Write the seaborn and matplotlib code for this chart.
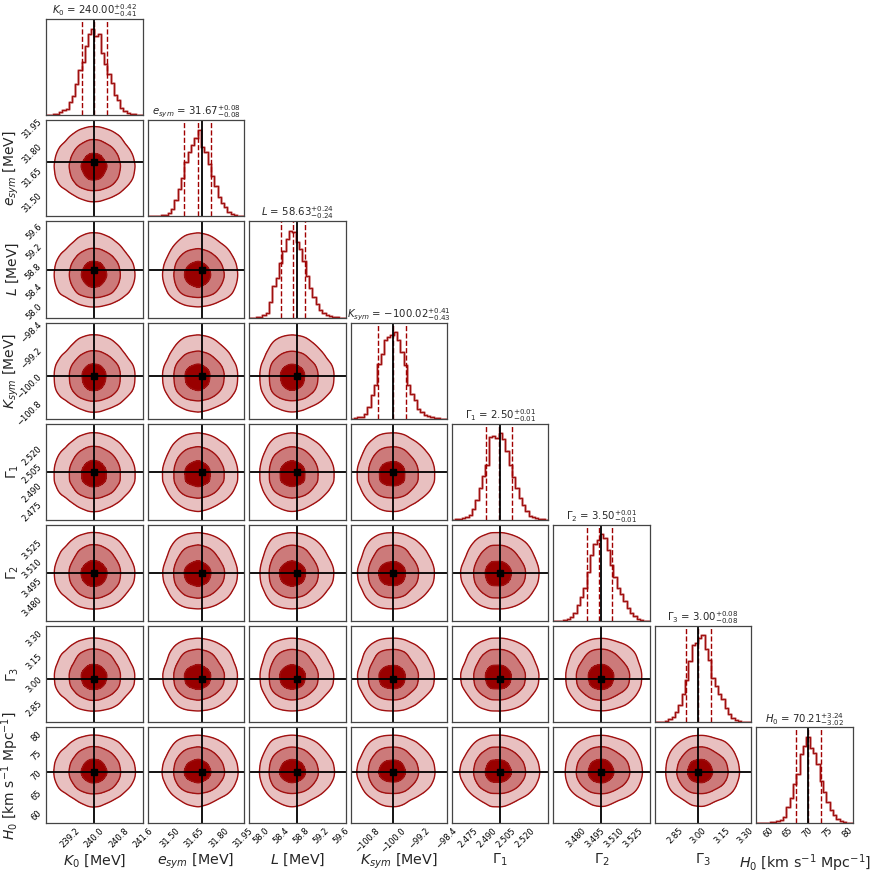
# Corner plot of the posterior for the nuclear EOS + H0 parameters.

import numpy as np
import seaborn as sns
import matplotlib.pyplot as plt
from matplotlib.ticker import ScalarFormatter

sns.set_style("white")

# Parameters
labels = [r"$K_0$ [MeV]", r"$e_{sym}$ [MeV]", r"$L$ [MeV]", r"$K_{sym}$ [MeV]",
          r"$\Gamma_1$", r"$\Gamma_2$", r"$\Gamma_3$", r"$H_0$ [km s$^{-1}$ Mpc$^{-1}$]"]
symbols = [r"K_0", r"e_{sym}", r"L", r"K_{sym}", r"\Gamma_1", r"\Gamma_2", r"\Gamma_3", r"H_0"]

# injected (true) values and posterior summaries
truths = [240.0, 31.70, 58.70, -100.0, 2.500, 3.500, 3.000, 70.0]
medians = [240.00, 31.67, 58.63, -100.02, 2.4995, 3.4985, 3.00, 70.21]
err_lo = [0.41, 0.08, 0.24, 0.43, 0.01, 0.01, 0.08, 3.02]
err_hi = [0.42, 0.08, 0.24, 0.41, 0.01, 0.01, 0.08, 3.24]

# axis extents and ticks
ranges = [(238.4, 241.6), (31.365, 31.955), (57.75, 59.68), (-101.29, -98.37),
          (2.462, 2.539), (3.4625, 3.538), (2.722, 3.341), (57.1, 81.4)]
ticks = [[239.2, 240.0, 240.8, 241.6],
         [31.50, 31.65, 31.80, 31.95],
         [58.0, 58.4, 58.8, 59.2, 59.6],
         [-100.8, -100.0, -99.2, -98.4],
         [2.475, 2.490, 2.505, 2.520],
         [3.480, 3.495, 3.510, 3.525],
         [2.85, 3.00, 3.15, 3.30],
         [60, 65, 70, 75, 80]]

# marginal histogram counts (evenly spaced bins over each range)
hist_K0 = [0, 0, 3, 5, 10, 14, 18, 38, 55, 90, 130, 155, 200, 235, 251,
           230, 235, 180, 150, 120, 95, 60, 45, 20, 12, 8, 5, 3, 1, 0]
hist_esym = [0, 0, 0, 1, 3, 5, 10, 22, 50, 85, 120, 170, 200, 222, 245,
             270, 215, 200, 165, 125, 95, 62, 42, 28, 14, 8, 4, 2, 0]
hist_L = [0, 0, 1, 3, 8, 14, 45, 92, 115, 160, 195, 228, 252, 250, 220,
          200, 165, 120, 85, 60, 38, 22, 12, 8, 5, 3, 1, 0, 0]
hist_Ksym = [0, 2, 4, 6, 15, 35, 70, 100, 165, 195, 235, 245, 250, 260, 235,
             200, 160, 100, 75, 55, 30, 20, 12, 8, 5, 2, 1, 0, 0]
hist_G1 = [0, 1, 3, 4, 8, 14, 30, 55, 90, 125, 155, 235, 237, 232, 245,
           228, 195, 155, 122, 90, 62, 42, 26, 12, 8, 4, 2, 1, 0]
hist_G2 = [0, 0, 0, 2, 6, 12, 22, 45, 70, 95, 140, 190, 222, 235, 250,
           238, 205, 160, 128, 95, 78, 58, 38, 22, 13, 6, 3, 1, 0]
hist_G3 = [0, 0, 0, 3, 8, 16, 28, 50, 80, 120, 175, 222, 228, 242, 250,
           210, 180, 128, 105, 82, 66, 40, 22, 11, 5, 2, 1, 0, 0]
hist_H0 = [0, 0, 0, 1, 2, 3, 5, 8, 18, 45, 72, 112, 140, 198, 222,
           248, 215, 200, 170, 120, 88, 62, 38, 22, 12, 5, 2, 1, 0]
hists = [hist_K0, hist_esym, hist_L, hist_Ksym, hist_G1, hist_G2, hist_G3, hist_H0]

dark = "#a01010"
fill_colors = ["#e8c0c0", "#cc7a7a", "#990000"]
mass_levels = 1.0 - np.exp(-0.5 * np.array([3.0, 2.0, 1.0]) ** 2)  # 3, 2, 1 sigma in 2D

ndim = len(labels)


def bin_centers(k):
    lo, hi = ranges[k]
    edges = np.linspace(lo, hi, len(hists[k]) + 1)
    return 0.5 * (edges[1:] + edges[:-1])


def smooth_marginal(k, grid):
    # kernel-smoothed version of the marginal histogram
    cx = bin_centers(k)
    bw = 0.8 * (cx[1] - cx[0])
    h = np.array(hists[k], dtype=float)
    return (h[None, :] * np.exp(-0.5 * ((grid[:, None] - cx[None, :]) / bw) ** 2)).sum(axis=1)


fig, axes = plt.subplots(ndim, ndim, figsize=(8.72, 8.72), dpi=100)
fig.subplots_adjust(left=0.053, right=0.978, bottom=0.056, top=0.978,
                    wspace=0.052, hspace=0.052)

for r in range(ndim):
    for c in range(ndim):
        ax = axes[r, c]
        if c > r:
            ax.set_visible(False)
            continue

        if r == c:
            cx = bin_centers(c)
            h = np.array(hists[c], dtype=float)
            for col, lw in (("#dc9e9e", 2.0), (dark, 0.9)):
                sns.histplot(x=cx, weights=h, bins=len(h), binrange=ranges[c],
                             element="step", fill=False, color=col, linewidth=lw, ax=ax)
            med = medians[c]
            for q in (med - err_lo[c], med, med + err_hi[c]):
                ax.axvline(q, color="#a00000", ls="--", lw=1.0)
            ax.axvline(truths[c], color="black", lw=1.3)
            ax.set_ylim(0, 1.11 * h.max())
            ax.set_yticks([])
            ax.set_ylabel("")
            ax.set_title(rf"${symbols[c]}$ = ${med:.2f}_{{-{err_lo[c]:.2f}}}^{{+{err_hi[c]:.2f}}}$",
                         fontsize=7.3, pad=3)
        else:
            gx = np.linspace(*ranges[c], 150)
            gy = np.linspace(*ranges[r], 150)
            Z = np.outer(smooth_marginal(r, gy), smooth_marginal(c, gx))
            z_sorted = np.sort(Z.ravel())[::-1]
            cum = np.cumsum(z_sorted) / z_sorted.sum()
            thr = [z_sorted[np.searchsorted(cum, m)] for m in mass_levels]
            ax.contourf(gx, gy, Z, levels=thr + [Z.max() * 1.01], colors=fill_colors)
            ax.contour(gx, gy, Z, levels=thr, colors=dark, linewidths=1.0)
            ax.axvline(truths[c], color="black", lw=1.3)
            ax.axhline(truths[r], color="black", lw=1.3)
            ax.plot(truths[c], truths[r], "s", color="black", ms=5)
            ax.set_ylim(ranges[r])
            ax.set_yticks(ticks[r])
            ax.yaxis.set_major_formatter(ScalarFormatter(useOffset=False))
            ax.set_ylabel("")
            if c == 0:
                for lab in ax.get_yticklabels():
                    lab.set_rotation(45)
                ax.set_ylabel(labels[r], fontsize=10)
                ax.yaxis.set_label_coords(-0.26, 0.5)
            else:
                ax.set_yticklabels([])

        ax.set_xlim(ranges[c])
        ax.set_xticks(ticks[c])
        ax.xaxis.set_major_formatter(ScalarFormatter(useOffset=False))
        ax.set_xlabel("")
        if r == ndim - 1:
            for lab in ax.get_xticklabels():
                lab.set_rotation(45)
            ax.set_xlabel(labels[c], fontsize=10.3)
            ax.xaxis.set_label_coords(0.5, -0.3)
        else:
            ax.set_xticklabels([])

        ax.tick_params(direction="in", length=2.5, width=0.6, colors="#888888",
                       labelcolor="black", labelsize=6, pad=2)
        for sp in ax.spines.values():
            sp.set_color("#444444")
            sp.set_linewidth(0.9)

plt.savefig("out.png", dpi=100)
